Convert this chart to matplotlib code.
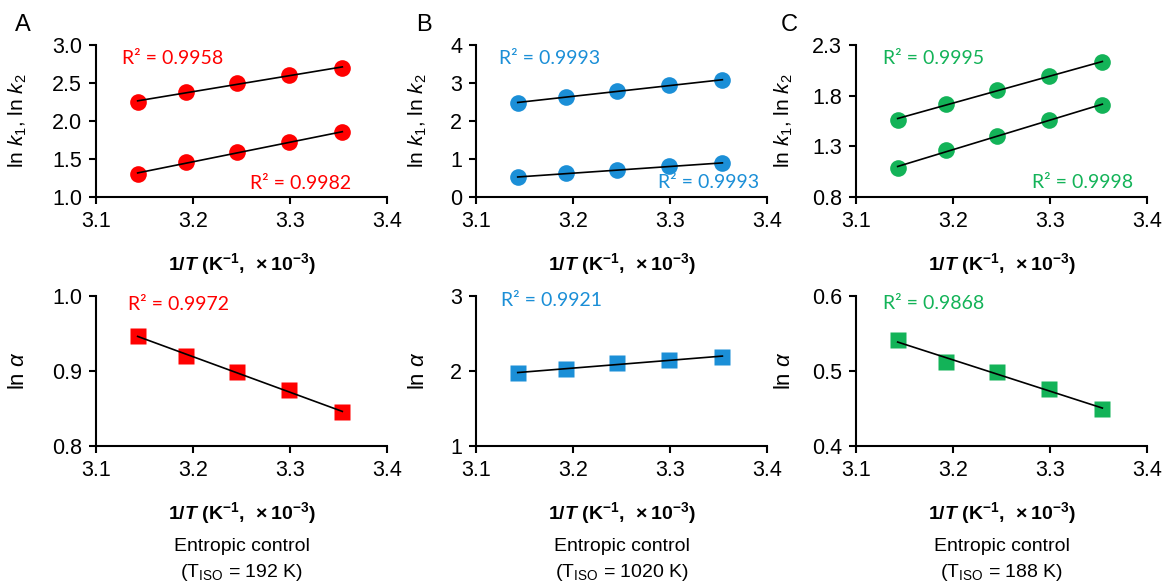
import matplotlib
matplotlib.use('Agg')
import matplotlib.pyplot as plt
import numpy as np

plt.rcParams['font.family'] = ['Liberation Sans', 'DejaVu Sans']
plt.rcParams['mathtext.fontset'] = 'custom'
plt.rcParams['mathtext.rm'] = 'Liberation Sans'
plt.rcParams['mathtext.it'] = 'Liberation Sans:italic'
plt.rcParams['mathtext.bf'] = 'Liberation Sans:bold'
plt.rcParams['mathtext.bfit'] = 'Liberation Sans:bold:italic'

# 1/T for 45, 40, 35, 30, 25 degC (x10^-3 K^-1)
inv_T = [3.143, 3.193, 3.245, 3.299, 3.354]

# top row: ln k1 / ln k2
A_k2 = [2.25, 2.38, 2.50, 2.60, 2.70]
A_k1 = [1.30, 1.46, 1.59, 1.72, 1.85]
B_k2 = [2.48, 2.64, 2.78, 2.94, 3.08]
B_k1 = [0.52, 0.62, 0.71, 0.81, 0.89]
C_k2 = [1.56, 1.72, 1.86, 1.99, 2.13]
C_k1 = [1.09, 1.26, 1.40, 1.56, 1.71]

# bottom row: ln alpha
A_alpha = [0.947, 0.920, 0.898, 0.874, 0.845]
B_alpha = [1.97, 2.03, 2.10, 2.14, 2.19]
C_alpha = [0.541, 0.512, 0.498, 0.476, 0.449]

r2_top = [('0.9958', '0.9982'), ('0.9993', '0.9993'), ('0.9995', '0.9998')]
r2_bot = ['0.9972', '0.9921', '0.9868']
t_iso = ['192', '1020', '188']
letters = ['A', 'B', 'C']

colors = ['#FF0000', '#1B8FD7', '#13B358']
top_ylim = [(1.0, 3.0), (0, 4), (0.8, 2.3)]
top_yticks = [[1.0, 1.5, 2.0, 2.5, 3.0], [0, 1, 2, 3, 4], [0.8, 1.3, 1.8, 2.3]]
top_fmt = ['%.1f', '%d', '%.1f']
bot_ylim = [(0.8, 1.0), (1, 3), (0.4, 0.6)]
bot_yticks = [[0.8, 0.9, 1.0], [1, 2, 3], [0.4, 0.5, 0.6]]
bot_fmt = ['%.1f', '%d', '%.1f']

top_data = [(A_k2, A_k1), (B_k2, B_k1), (C_k2, C_k1)]
bot_data = [A_alpha, B_alpha, C_alpha]

# R2 label positions (data coords)
r2_top_pos = [((3.127, 2.83), (3.259, 1.18)),
              ((3.124, 3.66), (3.288, 0.37)),
              ((3.128, 2.17), (3.281, 0.94))]
r2_bot_pos = [(3.133, 0.988), (3.126, 2.94), (3.128, 0.59)]

lefts = [0.0825, 0.4093, 0.736]
ylab_x = [-0.23, -0.16, -0.21]

xlabel = r'$\mathbf{1/}\mathbfit{T}\mathbf{\ (K^{-1},\ \times10^{-3})}$'

fig = plt.figure(figsize=(11.63, 5.82), dpi=100)


def style(ax, ylim, yticks, fmt):
    ax.set_xlim(3.1, 3.4)
    ax.set_xticks([3.1, 3.2, 3.3, 3.4])
    ax.set_xticklabels(['3.1', '3.2', '3.3', '3.4'])
    ax.set_ylim(*ylim)
    ax.set_yticks(yticks)
    ax.set_yticklabels([fmt % v for v in yticks])
    for s in ['top', 'right']:
        ax.spines[s].set_visible(False)
    for s in ['left', 'bottom']:
        ax.spines[s].set_linewidth(1.5)
    ax.tick_params(direction='out', length=5, width=1.5, labelsize=15.5, pad=5)
    ax.set_xlabel(xlabel, fontsize=14, labelpad=14)


for i in range(3):
    c = colors[i]
    # top row
    ax = fig.add_axes([lefts[i], 0.6615, 0.2502, 0.261])
    for j, ys in enumerate(top_data[i]):
        p = np.polyfit(inv_T, ys, 1)
        ax.plot([inv_T[0], inv_T[-1]], np.polyval(p, [inv_T[0], inv_T[-1]]),
                color='black', lw=1.2, zorder=3)
        ax.plot(inv_T, ys, 'o', color=c, ms=12, mec='none', zorder=2)
        ax.text(*r2_top_pos[i][j], 'R² = ' + r2_top[i][j], color=c,
                fontsize=14, family='Lato', ha='left', va='center')
    style(ax, top_ylim[i], top_yticks[i], top_fmt[i])
    ax.set_ylabel(r'ln $\mathit{k}_1$, ln $\mathit{k}_2$', fontsize=15)
    ax.yaxis.set_label_coords(ylab_x[i], 0.5)
    ax.text(ylab_x[i] - 0.02, 1.13, letters[i], transform=ax.transAxes,
            fontsize=17, ha='center', va='center')

    # bottom row
    ax = fig.add_axes([lefts[i], 0.2337, 0.2502, 0.258])
    ys = bot_data[i]
    p = np.polyfit(inv_T, ys, 1)
    ax.plot([inv_T[0], inv_T[-1]], np.polyval(p, [inv_T[0], inv_T[-1]]),
            color='black', lw=1.2, zorder=3)
    ax.plot(inv_T, ys, 's', color=c, ms=11, mec='none', zorder=2)
    ax.text(*r2_bot_pos[i], 'R² = ' + r2_bot[i], color=c,
            fontsize=14, family='Lato', ha='left', va='center')
    style(ax, bot_ylim[i], bot_yticks[i], bot_fmt[i])
    ax.set_ylabel(r'ln $\alpha$', fontsize=16)
    ax.yaxis.set_label_coords(ylab_x[i], 0.5)
    ax.text(0.5, -0.67, 'Entropic control', transform=ax.transAxes,
            fontsize=14, ha='center', va='center')
    ax.text(0.5, -0.845, r'(T$_{\mathrm{ISO}}$ = ' + t_iso[i] + ' K)',
            transform=ax.transAxes, fontsize=14, ha='center', va='center')

fig.savefig('out.png', dpi=100)
